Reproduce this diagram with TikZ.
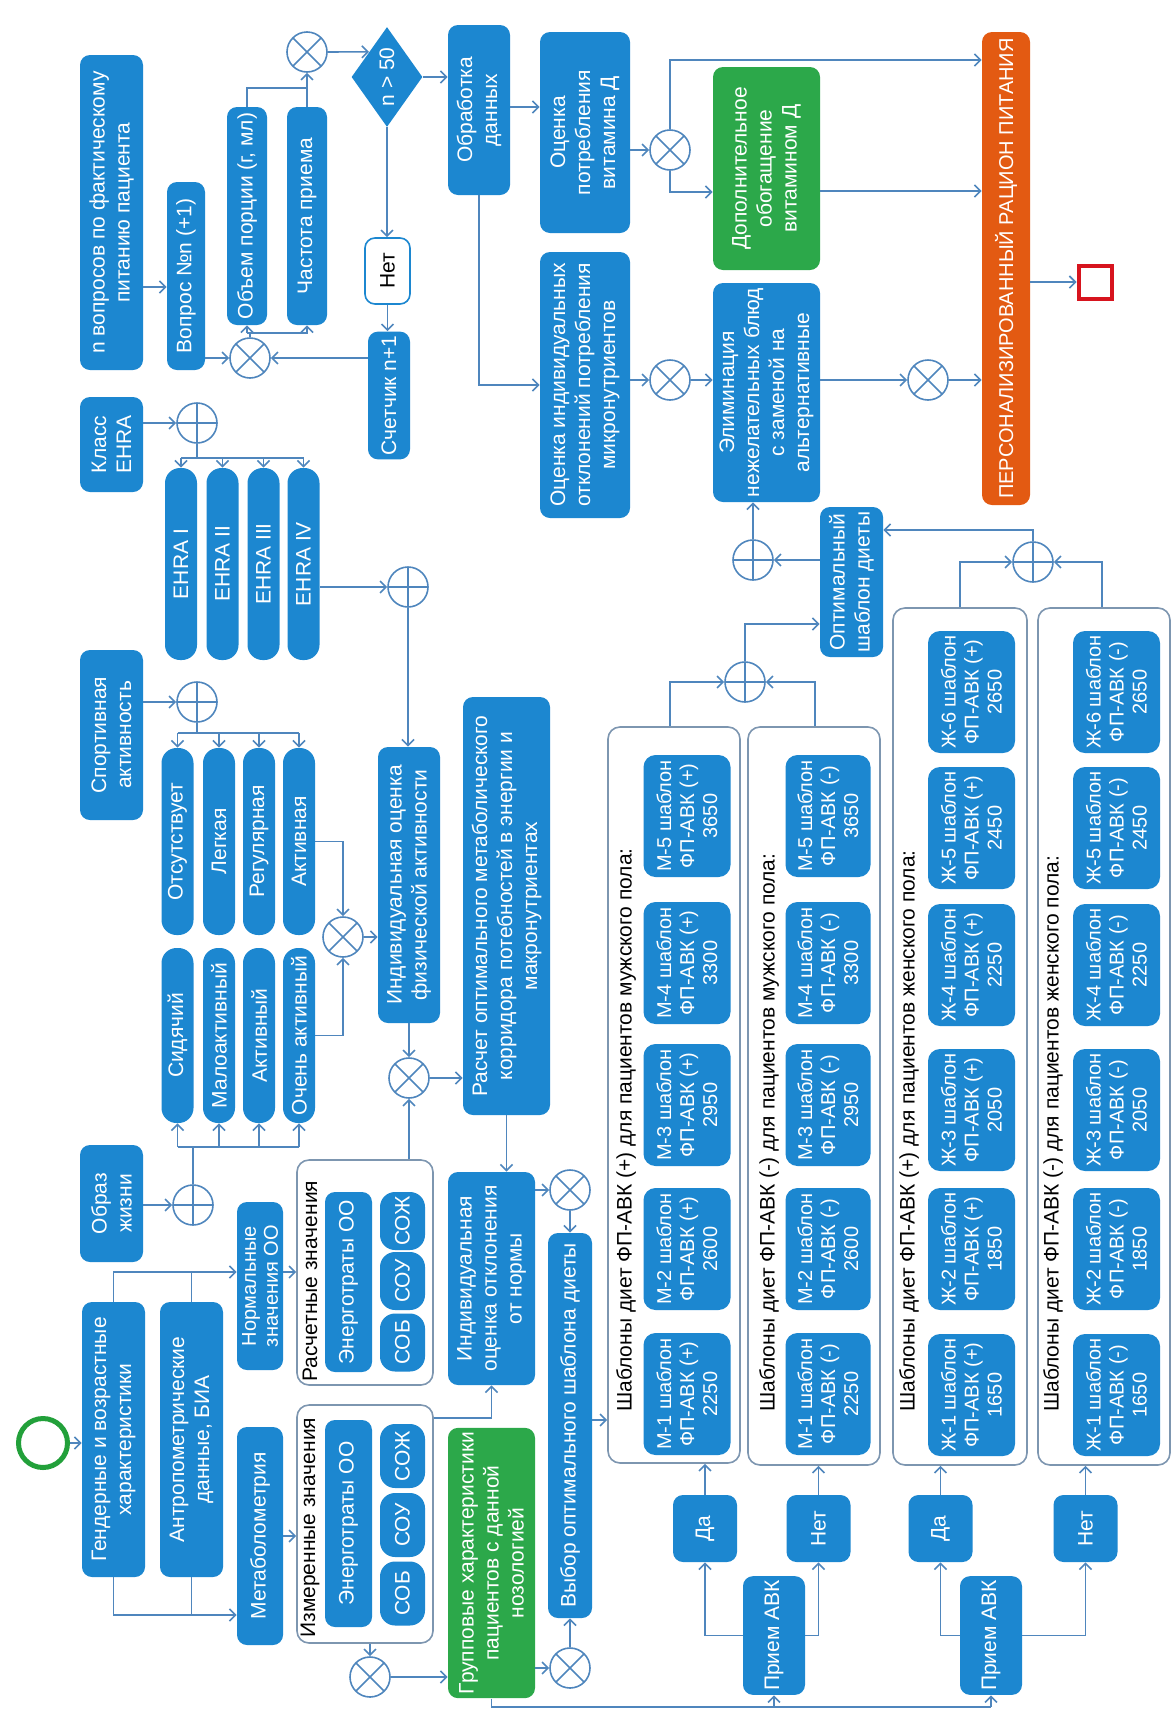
\documentclass[tikz,border=0pt]{standalone}
\usepackage{fontspec}
\setmainfont{Liberation Sans}
\usepackage{xcolor}
\usetikzlibrary{arrows.meta,positioning,shapes.geometric,calc}
\definecolor{flowBlue}{HTML}{1C87D0}
\definecolor{flowGreen}{HTML}{2CA84A}
\definecolor{flowOrange}{HTML}{E35A12}
\definecolor{flowRed}{HTML}{D7141E}
\definecolor{startGreen}{HTML}{22A03A}
\definecolor{wireBlue}{HTML}{4F86BD}
\definecolor{frameGray}{HTML}{7D96B0}

\begin{document}
\begin{tikzpicture}[x=0.5pt, y=-0.5pt,
        every node/.style={font=\fontsize{10.5}{12.5}\selectfont},
        box/.style={rotate=90, fill=flowBlue, text=white, rounded corners=5pt, align=center, inner sep=2pt},
        pill/.style={box, rounded corners=7.5pt, minimum height=16pt},
        greenbox/.style={box, fill=flowGreen},
        tmpl/.style={box, rounded corners=6pt, minimum width=61pt, minimum height=43.5pt, font=\fontsize{10}{11.5}\selectfont},
        frame/.style={rotate=90, draw=frameGray, line width=0.8pt, fill=white, rounded corners=6pt},
        ftitle/.style={rotate=90, anchor=west, inner sep=0pt, text=black},
        xor/.style={circle, draw=wireBlue, line width=0.8pt, fill=white, minimum size=20pt, inner sep=0pt,
            path picture={\draw[wireBlue, line width=0.8pt] (path picture bounding box.north west) -- (path picture bounding box.south east)
                (path picture bounding box.north east) -- (path picture bounding box.south west);}},
        orgate/.style={circle, draw=wireBlue, line width=0.8pt, fill=white, minimum size=20pt, inner sep=0pt,
            path picture={\draw[wireBlue, line width=0.8pt] (path picture bounding box.north) -- (path picture bounding box.south)
                (path picture bounding box.east) -- (path picture bounding box.west);}},
        wire/.style={draw=wireBlue, line width=0.8pt},
        arr/.style={wire, -{Straight Barb[length=3pt,width=6pt]}}
    ]
    \fill[white] (0,0) rectangle (1171,1735);
    \useasboundingbox (0,0) rectangle (1171,1735);

    % input data
    \node[circle, draw=startGreen, line width=2.5pt, minimum size=24.5pt, inner sep=0pt] (start) at (43,1443) {};
    \node[box, minimum width=137.5pt, minimum height=31.5pt] (gender) at (113.5,1439.5) {Гендерные и возрастные\\характеристики};
    \node[box, minimum width=137.5pt, minimum height=31.5pt] (anthro) at (191.5,1439.5) {Антропометрические\\данные, БИА};
    \node[box, minimum width=109pt, minimum height=23pt] (metab) at (260,1536) {Метаболометрия};
    \node[box, minimum width=84pt, minimum height=23pt, inner sep=1pt, font=\fontsize{10}{11}\selectfont] (normal) at (260,1286) {Нормальные\\значения ОО};

    \node[frame, minimum width=112.5pt, minimum height=68pt] (calcval) at (365,1272.5) {};
    \node[frame, minimum width=119pt, minimum height=68pt] (measval) at (365,1524) {};
    \node[ftitle] (calctitle) at (310,1382) {Расчетные значения};
    \node[ftitle] (meastitle) at (310,1638) {Измеренные значения};
    \node[box, minimum width=90pt, minimum height=23.5pt] (calcen) at (348.5,1282) {Энерготраты ОО};
    \node[box, minimum width=103.5pt, minimum height=23.5pt] (measen) at (348.5,1523.5) {Энерготраты ОО};
    \foreach \nm/\txt/\ypos in {zh/СОЖ/1221, u/СОУ/1281, b/СОБ/1342.5}
        \node[pill, minimum width=29pt, minimum height=22.5pt] (calc\nm) at (402.5,\ypos) {\txt};
    \foreach \nm/\txt/\ypos in {zh/СОЖ/1456, u/СОУ/1525, b/СОБ/1593.5}
        \node[pill, minimum width=32pt, minimum height=22.5pt] (meas\nm) at (402.5,\ypos) {\txt};

    % lifestyle, sport, EHRA
    \node[box, minimum width=58.5pt, minimum height=31.5pt] (life) at (111.5,1203.5) {Образ\\жизни};
    \node[orgate] (lifeor) at (193,1205) {};
    \foreach \nm/\txt/\xpos in {sit/Сидячий/177.5, low/Малоактивный/219, act/Активный/259, high/Очень активный/299}
        \node[pill, minimum width=87.5pt] (life\nm) at (\xpos,1035.5) {\txt};

    \node[box, minimum width=85pt, minimum height=31.5pt] (sport) at (111.5,735) {Спортивная\\активность};
    \node[orgate] (sportor) at (197,702) {};
    \foreach \nm/\txt/\xpos in {none/Отсутствует/177.5, light/Легкая/219, reg/Регулярная/259, act/Активная/299}
        \node[pill, minimum width=93.5pt] (sport\nm) at (\xpos,841.5) {\txt};

    \node[box, minimum width=47.5pt, minimum height=31.5pt] (ehra) at (111.5,444.5) {Класс\\EHRA};
    \node[orgate] (ehraor) at (197,423) {};
    \foreach \nm/\txt/\xpos in {1/EHRA I/181, 2/EHRA II/222.5, 3/EHRA III/263.5, 4/EHRA IV/303.5}
        \node[pill, minimum width=96pt] (ehra\nm) at (\xpos,564) {\txt};

    \node[xor] (actxor) at (343,937) {};
    \node[orgate] (ehraor2) at (408,587) {};
    \node[box, minimum width=138pt, minimum height=31pt] (physact) at (409,885) {Индивидуальная оценка\\физической активности};
    \node[xor] (metxor) at (409,1078) {};
    \node[box, minimum width=209pt, minimum height=43.5pt] (corridor) at (506.5,906) {Расчет оптимального метаболического\\корридора потебностей в энергии и\\макронутриентах};
    \node[box, minimum width=106.5pt, minimum height=43.5pt] (deviation) at (491.5,1278.5) {Индивидуальная\\оценка отклонения\\от нормы};
    \node[xor] (selxor) at (570,1190) {};
    \node[box, minimum width=192.5pt, minimum height=22pt] (choice) at (570,1425.5) {Выбор оптимального шаблона диеты};
    \node[xor] (grpxor) at (570,1668) {};
    \node[greenbox, minimum width=135pt, minimum height=43.5pt] (group) at (491.5,1563) {Групповые характеристики\\пациентов с данной\\нозологией};
    \node[xor] (measxor) at (370,1677) {};

    % questionnaire loop
    \node[box, minimum width=157.5pt, minimum height=31.5pt] (survey) at (111.5,212.5) {n вопросов по фактическому\\питанию пациента};
    \node[box, minimum width=94pt, minimum height=19pt] (question) at (186,276) {Вопрос №n (+1)};
    \node[xor] (qxor) at (250,358) {};
    \node[box, minimum width=109pt, minimum height=20pt] (portion) at (247,216) {Объем порции (г, мл)};
    \node[box, minimum width=109pt, minimum height=20pt] (freq) at (307,216) {Частота приема};
    \node[xor] (fxor) at (307,52) {};
    \node[diamond, rotate=90, fill=flowBlue, text=white, aspect=1.4, inner sep=0pt, minimum width=50pt, minimum height=35.5pt] (check) at (387,77) {n > 50};
    \node[box, fill=white, draw=flowBlue, line width=0.8pt, text=black, minimum width=33pt, minimum height=22.5pt] (no) at (387.5,271) {Нет};
    \node[box, minimum width=63.5pt, minimum height=21pt] (counter) at (389,395.5) {Счетчик n+1};

    % processing and result
    \node[box, minimum width=85pt, minimum height=31pt] (process) at (479,110) {Обработка\\данных};
    \node[box, minimum width=100.5pt, minimum height=45pt] (vitd) at (585,132.5) {Оценка\\потребления\\витамина Д};
    \node[box, minimum width=133pt, minimum height=45pt] (micro) at (585,385) {Оценка индивидуальных\\отклонений потребления\\микронутриентов};
    \node[xor] (vitxor) at (670,150) {};
    \node[xor] (microxor) at (670,380) {};
    \node[greenbox, minimum width=101.5pt, minimum height=53.5pt] (enrich) at (766.5,168.5) {Дополнительное\\обогащение\\витамином Д};
    \node[box, minimum width=109.5pt, minimum height=53.5pt] (elim) at (766.5,392.5) {Элиминация\\нежелательных блюд\\с заменой на\\альтернативные};
    \node[xor] (finxor) at (928,380) {};
    \node[box, fill=flowOrange, minimum width=236.5pt, minimum height=24pt, inner sep=1pt, font=\fontsize{10}{12}\selectfont] (diet) at (1006,268.5) {ПЕРСОНАЛИЗИРОВАННЫЙ РАЦИОН ПИТАНИЯ};
    \node[draw=flowRed, line width=2pt, minimum size=16.5pt, inner sep=0pt] (finish) at (1095,282) {};
    \node[orgate] (optor) at (753,560) {};
    \node[box, minimum width=75pt, minimum height=31.5pt] (optimal) at (851.5,582) {Оптимальный\\шаблон диеты};
    \node[orgate] (maleor) at (745,682) {};
    \node[orgate] (femor) at (1033,562) {};

    % template groups
    \node[frame, minimum width=368pt, minimum height=66pt] (maleplus) at (674,1095) {};
    \node[frame, minimum width=369pt, minimum height=66pt] (maleminus) at (814,1096) {};
    \node[frame, minimum width=428.5pt, minimum height=67pt] (femplus) at (960,1036.5) {};
    \node[frame, minimum width=428.5pt, minimum height=66pt] (femminus) at (1104,1036.5) {};
    \node[ftitle] (mptitle) at (626,1412) {Шаблоны диет ФП-АВК (+) для пациентов мужского пола:};
    \node[ftitle] (mmtitle) at (769,1412) {Шаблоны диет ФП-АВК (-) для пациентов мужского пола:};
    \node[ftitle] (fptitle) at (909,1412) {Шаблоны диет ФП-АВК (+) для пациентов женского пола:};
    \node[ftitle] (fmtitle) at (1053,1412) {Шаблоны диет ФП-АВК (-) для пациентов женского пола:};
    \foreach \idx/\ypos/\kcal in {1/1394/2250, 2/1249/2600, 3/1105/2950, 4/963/3300, 5/816/3650} {
        \node[tmpl] (mp\idx) at (687,\ypos) {М-\idx{} шаблон\\ФП-АВК (+)\\\kcal};
        \node[tmpl, minimum height=42.5pt] (mm\idx) at (828,\ypos) {М-\idx{} шаблон\\ФП-АВК (-)\\\kcal};
    }
    \foreach \idx/\ypos/\kcal in {1/1395/1650, 2/1249/1850, 3/1110/2050, 4/965/2250, 5/828/2450, 6/692/2650} {
        \node[tmpl] (fp\idx) at (971.5,\ypos) {Ж-\idx{} шаблон\\ФП-АВК (+)\\\kcal};
        \node[tmpl] (fm\idx) at (1116.5,\ypos) {Ж-\idx{} шаблон\\ФП-АВК (-)\\\kcal};
    }

    \node[box, minimum width=33.5pt, minimum height=32pt] (yes1) at (705,1528.5) {Да};
    \node[box, minimum width=33.5pt, minimum height=32pt] (no1) at (818.5,1528.5) {Нет};
    \node[box, minimum width=33.5pt, minimum height=32pt] (yes2) at (940.5,1528.5) {Да};
    \node[box, minimum width=33.5pt, minimum height=32pt] (no2) at (1085.5,1528.5) {Нет};
    \node[box, minimum width=57.5pt, minimum height=31pt] (avk1) at (774,1635.5) {Прием АВК};
    \node[box, minimum width=57.5pt, minimum height=31pt] (avk2) at (991,1635.5) {Прием АВК};

    % connectors: inputs
    \draw[arr] (start.east) -- (start.east -| gender.north);
    \draw[arr] (gender.east) |- (normal.north |- 0,1272);
    \draw[wire] (anthro.east) -- (anthro.east |- 0,1272);
    \draw[arr] (gender.west) |- (metab.north |- 0,1615);
    \draw[wire] (anthro.west) -- (anthro.west |- 0,1615);
    \draw[arr] (normal.south |- 0,1272) -- (calcval.north |- 0,1272);
    \draw[arr] (metab.south) -- (metab.south -| measval.north);
    \draw[arr] (measval.south |- 0,1418) -| (deviation.west);
    \draw[arr] (measval.west -| measxor) -- (measxor.north);
    \draw[arr] (measxor.east) -- (measxor.east -| group.north);
    \draw[arr] (calcval.east -| metxor) -- (metxor.south);

    % connectors: activity
    \draw[arr] (life.south |- lifeor) -- (lifeor.west);
    \draw[wire] (lifeor.north) -- (lifeor.north |- 0,1147);
    \draw[wire] (lifesit.west |- 0,1147) -- (lifehigh.west |- 0,1147);
    \foreach \nm in {sit,low,act,high}
        \draw[arr] (life\nm.west |- 0,1147) -- (life\nm.west);
    \draw[arr] (lifehigh.south) -| (actxor.south);
    \draw[arr] (sport.south |- sportor) -- (sportor.west);
    \draw[wire] (sportor.south) -- (sportor.south |- 0,733);
    \draw[wire] (sportnone.east |- 0,733) -- (sportact.east |- 0,733);
    \foreach \nm in {none,light,reg,act}
        \draw[arr] (sport\nm.east |- 0,733) -- (sport\nm.east);
    \draw[arr] (sportact.south) -| (actxor.north);
    \draw[arr] (actxor.east) -- (actxor.east -| physact.north);
    \draw[arr] (ehra.south |- ehraor) -- (ehraor.west);
    \draw[wire] (ehraor.south) -- (ehraor.south |- 0,458);
    \draw[wire] (ehra1.east |- 0,458) -- (ehra4.east |- 0,458);
    \foreach \nm in {1,...,4}
        \draw[arr] (ehra\nm.east |- 0,458) -- (ehra\nm.east);
    \draw[arr] (ehra4.south |- ehraor2) -- (ehraor2.west);
    \draw[arr] (ehraor2.south) -- (ehraor2.south |- physact.east);
    \draw[arr] (physact.west) -- (physact.west |- metxor.north);
    \draw[arr] (metxor.east) -- (metxor.east -| corridor.north);
    \draw[arr] (corridor.west) -- (corridor.west |- deviation.east);
    \draw[arr] (deviation.south |- selxor) -- (selxor.west);
    \draw[arr] (selxor.south) -- (selxor.south |- choice.east);
    \draw[arr] (group.south |- grpxor) -- (grpxor.west);
    \draw[arr] (grpxor.north) -- (grpxor.north |- choice.west);
    \draw[arr] (choice.south |- 0,1420) -- (maleplus.north |- 0,1420);

    % connectors: questionnaire
    \draw[arr] (survey.south |- 0,287) -- (question.north |- 0,287);
    \draw[arr] (question.south |- qxor) -- (qxor.west);
    \draw[wire] (qxor.north) -- (qxor.north |- 0,333);
    \draw[arr] (portion.west |- 0,333) -- (portion.west);
    \draw[arr] (portion.west |- 0,333) -| (freq.west);
    \draw[wire] (portion.east) |- (freq.east |- 0,88);
    \draw[arr] (freq.east) -- (fxor.south);
    \draw[arr] (fxor.east) -- ($(check.north)!0.5!(check.east)$);
    \draw[arr] (check.west) -- (check.west |- no.east);
    \draw[arr] (no.west) -- (no.west |- counter.east);
    \draw[arr] (counter.north |- qxor) -- (qxor.east);
    \draw[arr] (check.south) -- (check.south -| process.north);

    % connectors: processing
    \draw[arr] (process.south |- 0,107) -- (vitd.north |- 0,107);
    \draw[arr] (process.west) |- (micro.north);
    \draw[arr] (vitd.south |- vitxor) -- (vitxor.west);
    \draw[arr] (vitxor.north) |- (diet.north |- 0,60);
    \draw[arr] (vitxor.south) |- (enrich.north |- 0,192);
    \draw[arr] (enrich.south |- 0,191) -- (diet.north |- 0,191);
    \draw[arr] (micro.south |- microxor) -- (microxor.west);
    \draw[arr] (microxor.east) -- (microxor.east -| elim.north);
    \draw[arr] (elim.south |- finxor) -- (finxor.west);
    \draw[arr] (finxor.east) -- (finxor.east -| diet.north);
    \draw[arr] (diet.south |- finish) -- (finish.west);
    \draw[arr] (optor.north) -- (optor.north |- elim.west);
    \draw[arr] (optimal.north |- optor) -- (optor.east);
    \draw[arr] (maleor.north) |- (optimal.north |- 0,624);
    \draw[arr] (femor.north) |- (optimal.south |- 0,530);
    \draw[arr] (maleplus.east -| 670,0) |- (maleor.west);
    \draw[arr] (maleminus.east -| 815,0) |- (maleor.east);
    \draw[arr] (femplus.east -| 960,0) |- (femor.west);
    \draw[arr] (femminus.east -| 1102,0) |- (femor.east);

    % connectors: anticoagulant choice
    \draw[arr] (yes1.east) -- (yes1.east |- maleplus.west);
    \draw[arr] (no1.east) -- (no1.east |- maleminus.west);
    \draw[arr] (yes2.east) -- (yes2.east |- femplus.west);
    \draw[arr] (no2.east) -- (no2.east |- femminus.west);
    \draw[arr] (avk1.north) -| (yes1.west);
    \draw[arr] (avk1.south) -| (no1.west);
    \draw[arr] (avk2.north) -| (yes2.west);
    \draw[arr] (avk2.south) -| (no2.west);
    \draw[wire] (group.west) -- (group.west |- 0,1707) -- (avk2.west |- 0,1707);
    \draw[arr] (avk1.west |- 0,1707) -- (avk1.west);
    \draw[arr] (avk2.west |- 0,1707) -- (avk2.west);
\end{tikzpicture}
\end{document}
